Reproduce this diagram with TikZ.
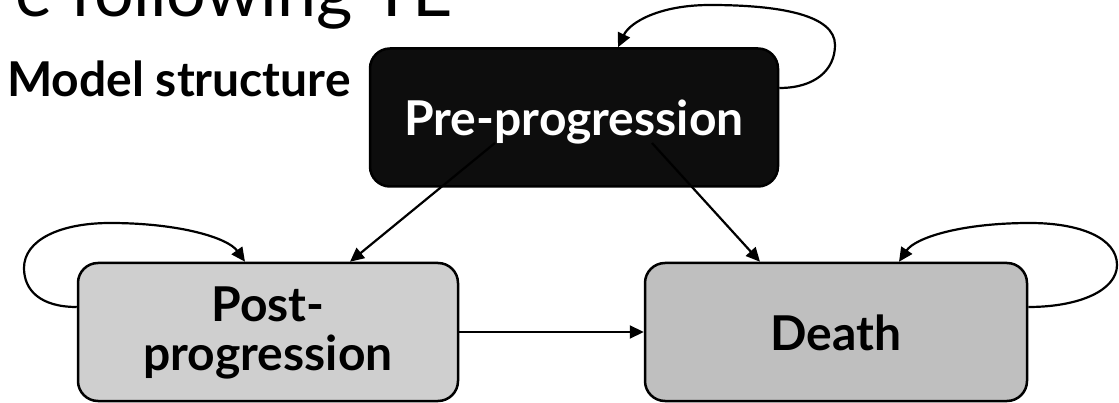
\documentclass[tikz,border=0pt]{standalone}
\usepackage{fontspec}
\setmainfont{Lato}
\usetikzlibrary{arrows.meta}
\definecolor{preblack}{RGB}{13,13,13}
\definecolor{postgray}{RGB}{207,207,207}
\definecolor{deathgray}{RGB}{191,191,191}
\begin{document}
\begin{tikzpicture}[x=1pt,y=-1pt,
  statebox/.style={draw=black, line width=2.5pt, rounded corners=20pt, minimum height=138pt, inner sep=0pt},
  conn/.style={line width=2.2pt, -{Triangle[length=14pt,width=13pt]}},
  lbl/.style={font=\fontsize{48}{48}\selectfont\bfseries, anchor=base, inner sep=0pt}]
\clip (0,0) rectangle (1119,403);
\node[anchor=base east, inner sep=0pt, font=\fontsize{70}{70}\selectfont] (title) at (453,17) {e following TE};
\node[lbl, anchor=base west] (model) at (7,97) {Model structure};
% boxes
\node[statebox, fill=preblack, minimum width=408pt] (pre) at (574,117.5) {};
\node[statebox, fill=postgray, minimum width=380pt] (post) at (268,332) {};
\node[statebox, fill=deathgray, minimum width=382pt] (death) at (836,332) {};
% texts
\node[lbl, text=white] (pretxt) at (574,136) {Pre-progression};
\node[lbl] (posttxtA) at (268,322) {Post-};
\node[lbl] (posttxtB) at (268,370) {progression};
\node[lbl] (deathtxt) at (836,350) {Death};
% connectors
\coordinate (preL) at (495,143);
\coordinate (preR) at (652,143);
\draw[conn] (preL) -- ([xshift=82pt]post.north);
\draw[conn] (preR) -- ([xshift=-76pt]death.north);
\draw[conn] (post) -- (death);
% loops
\draw[conn] ([yshift=29.5pt]pre.east) .. controls (815,88) and (835,70) .. (835,45)
  .. controls (835,15) and (780,5) .. (710,5) .. controls (660,5) and (630,22) .. ([xshift=44pt]pre.north);
\draw[conn] ([yshift=25pt]post.west) .. controls (40,307) and (24,290) .. (24,268)
  .. controls (24,240) and (60,223) .. (110,223) .. controls (180,223) and (228,238) .. ([xshift=-23pt]post.north);
\draw[conn] ([yshift=25pt]death.east) .. controls (1080,307) and (1117,290) .. (1117,265)
  .. controls (1117,238) and (1080,223) .. (1030,223) .. controls (960,223) and (915,238) .. ([xshift=63pt]death.north);
\end{tikzpicture}
\end{document}
